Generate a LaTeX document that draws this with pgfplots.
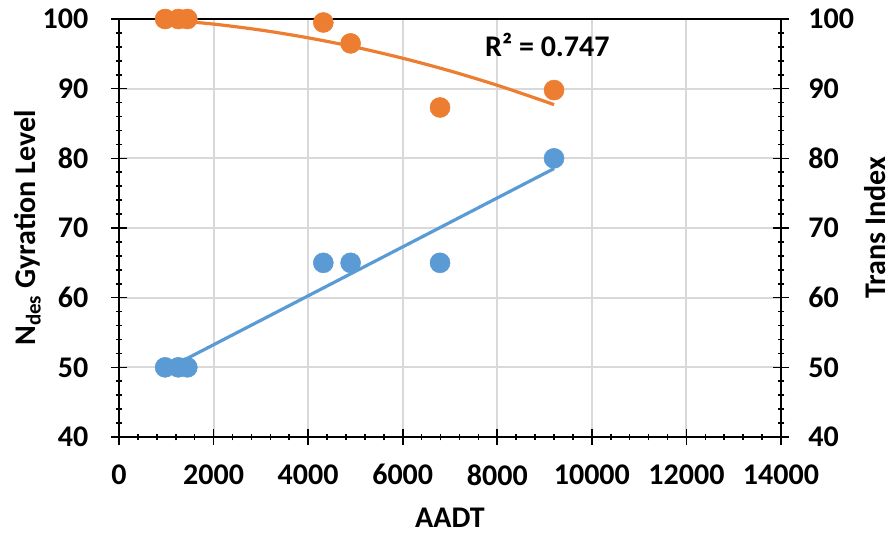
\documentclass[border=0pt]{standalone}
\usepackage{fontspec}
\setmainfont{Carlito}
\usepackage{pgfplots}
\pgfplotsset{compat=1.18}
\definecolor{cblue}{HTML}{5B9BD5}
\definecolor{corange}{HTML}{ED7D31}
\definecolor{cgrid}{HTML}{D9D9D9}
\begin{document}
\begin{tikzpicture}
\useasboundingbox (-89.25pt,-74.25pt) rectangle (580.5pt,327.75pt);
\pgfplotsset{
  common/.style={
    width=496.5pt, height=313.5pt, scale only axis,
    xmin=0, xmax=14000, ymin=40, ymax=100,
    ytick={40,50,...,100},
    minor y tick num=4,
    font=\fontsize{22.5}{27}\selectfont\bfseries,
    tick label style={font=\fontsize{22.5}{27}\selectfont\bfseries},
    /pgf/number format/assume math mode=true,
    tick align=center,
    major tick length=12pt,
    minor tick length=5pt,
    tick style={black, line width=1.2pt},
    axis line style={black, line width=1.6pt},
  }
}
\begin{axis}[common,
  xtick={0,2000,...,14000}, minor x tick num=4,
  xtick pos=left, ytick pos=left,
  scaled x ticks=false,
  /pgf/number format/1000 sep={},
  xticklabel style={yshift=-11pt},
  yticklabel style={xshift=-13.5pt},
  grid=major, major grid style={cgrid, line width=1.5pt},
  xlabel={AADT},
  xlabel style={at={(axis description cs:0.5,-0.194)}, anchor=center},
  ylabel={N\textsubscript{des} Gyration Level},
  ylabel style={at={(axis description cs:-0.138,0.5)}, anchor=center},
]
\addplot[cblue, line width=2.4pt, no marks] coordinates {(975,49.64) (9200,78.53)};
\addplot[only marks, mark=*, mark size=7.5pt, cblue, mark options={draw=cblue, fill=cblue}] coordinates {
(975,50) (1254,50) (1445,50) (4321,65) (4898,65) (6789,65) (9200,80)};
\end{axis}
\begin{axis}[common,
  axis y line*=right, axis x line=none,
  yticklabel style={xshift=11pt},
  ylabel={Trans Index},
  ylabel style={at={(axis description cs:1.142,0.5)}, anchor=center},
]
\addplot[corange, line width=2.4pt, no marks, smooth] coordinates {
(975,99.90) (2000,99.27) (3000,98.41) (4000,97.30) (5000,95.96) (6000,94.37) (7000,92.55) (8000,90.49) (9000,88.19) (9200,87.70)};
\addplot[only marks, mark=*, mark size=7.5pt, corange, mark options={draw=corange, fill=corange}] coordinates {
(975,100) (1254,100) (1445,100) (4321,99.5) (4898,96.5) (6789,87.3) (9200,89.8)};
\node[font=\fontsize{22.5}{27}\selectfont\bfseries] at (axis cs:9060,96.3) {R² = 0.747};
\end{axis}
\end{tikzpicture}
\end{document}
